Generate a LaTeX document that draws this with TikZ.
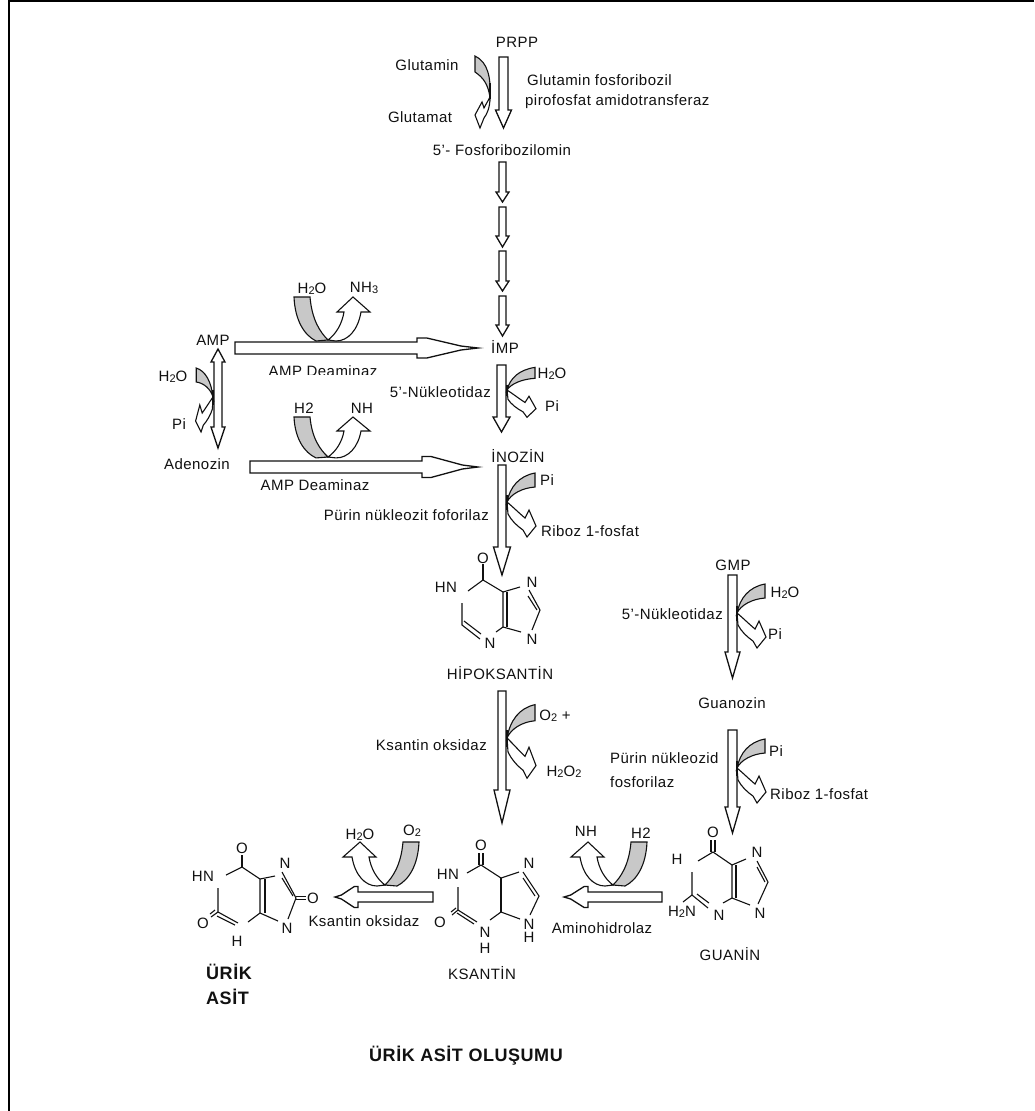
\documentclass[tikz,border=0pt]{standalone}
\usepackage{fontspec}
\setmainfont{Liberation Sans}[LetterSpace=3]
\usetikzlibrary{calc}
\definecolor{ink}{HTML}{111111}
\definecolor{bandgrey}{HTML}{C8C8C8}
\tikzset{
  lab/.style={font=\fontsize{15}{17}\selectfont,text=ink,inner sep=0pt},
  labw/.style={lab,anchor=west},
  labe/.style={lab,anchor=east},
  blab/.style={font=\bfseries\fontsize{18}{20}\selectfont,text=ink,inner sep=0pt},
  atom/.style={lab},
  blockarrow/.style={draw=ink,fill=white,line width=1.3pt,line join=miter},
  band/.style={draw=ink,fill=bandgrey,line width=1.1pt},
  curvearrow/.style={draw=ink,fill=white,line width=1.1pt},
  bond/.style={draw=ink,line width=1.1pt},
  wedge/.style={draw=ink,line width=2.2pt},
}
\newcommand{\low}[1]{\raisebox{-1.5pt}{\fontsize{11}{11}\selectfont #1}}
% vertical block arrow: name, x, ytop, yneck, ytip, shaft half width, head half width
\newcommand{\varr}[7]{%
  \coordinate (#1s) at (#2,#3); \coordinate (#1n) at (#2,#4); \coordinate (#1e) at (#2,#5);
  \draw[blockarrow] ($(#1s)+(-#6,0)$) -- ($(#1s)+(#6,0)$) -- ($(#1n)+(#6,0)$) -- ($(#1n)+(#7,0)$)
    -- (#1e) -- ($(#1n)+(-#7,0)$) -- ($(#1n)+(-#6,0)$) -- cycle;}
% horizontal block arrow with a needle tip: name, y, xstart, xneck, xtip, shaft half, head half
\newcommand{\harr}[7]{%
  \coordinate (#1s) at (#3,#2); \coordinate (#1n) at (#4,#2); \coordinate (#1e) at (#5,#2);
  \draw[blockarrow] ($(#1s)+(0,-#6)$) -- ($(#1n)+(0,-#6)$) -- ($(#1n)+(0,-#7)$)
    -- ($($(#1n)!.16!(#1e)$)+(0,-#7)$) -- ($($(#1n)!.72!(#1e)$)+(0,-2)$) -- (#1e)
    -- ($($(#1n)!.72!(#1e)$)+(0,2)$) -- ($($(#1n)!.16!(#1e)$)+(0,#7)$)
    -- ($(#1n)+(0,#7)$) -- ($(#1n)+(0,#6)$) -- ($(#1s)+(0,#6)$) -- cycle;}
% U shaped cofactor pair; apex at the arrow
\newcommand{\ubend}[3]{%
  \coordinate (#1) at (#2);
  \begin{scope}[shift={(#1)},#3]
    \draw[band] (-34,-43) -- (-18,-43) .. controls (-16,-20) and (-8,-8) .. (0,0)
      -- (-12,1) .. controls (-24,-5) and (-33,-20) .. (-34,-43) -- cycle;
    \draw[curvearrow] (0,0) .. controls (8,-6) and (14,-16) .. (16,-28) -- (9,-28) -- (25,-43)
      -- (42,-28) -- (33,-28) .. controls (30,-10) and (20,1) .. (8,1) -- cycle;
  \end{scope}}
% side cofactor pair
\newcommand{\sbend}[3]{%
  \coordinate (#1) at (#2);
  \begin{scope}[shift={(#1)},#3]
    \draw[band] (28,-29) .. controls (12,-26) and (3,-15) .. (0,0)
      .. controls (4,-8) and (15,-14) .. (28,-15) -- cycle;
    \draw[curvearrow] (0,0) .. controls (6,5) and (12,11) .. (18,16) -- (22,8) -- (29,24)
      -- (20,35) -- (16,28) .. controls (10,24) and (4,18) .. (1,12) -- cycle;
    \draw[ink,line width=1.6pt] (0,-7) -- (0,8);
  \end{scope}}
\begin{document}
\begin{tikzpicture}[x=1pt,y=-1pt]
\useasboundingbox (0,0) rectangle (1034,1111);
\fill[white] (0,0) rectangle (1034,1111);
% frame
\coordinate (frameTR) at (1034,1);
\coordinate (frameTL) at (9,1);
\coordinate (frameBL) at (9,1111);
\draw[black,line width=2.4pt] (frameTR) -- (frameTL) -- (frameBL);

% main vertical path
\varr{a1}{503.5}{57}{110}{128}{4.5}{8}
\varr{a2}{502.5}{162}{192}{202}{3.5}{6.5}
\varr{a3}{502.5}{207}{236}{247}{3.5}{6.5}
\varr{a4}{502.5}{251}{281}{291}{3.5}{6.5}
\varr{a5}{502.5}{296}{325}{336}{3.5}{6.5}
\varr{a6}{501.5}{365}{417}{432}{4.5}{8.5}
\varr{a7}{502}{465}{547}{575}{4}{8.5}
\varr{a8}{502}{691}{790}{823}{4}{8}
\varr{a9}{732.5}{575}{652}{678}{4.5}{7.5}
\varr{a10}{732.5}{730}{807}{833}{4.5}{7.5}
% horizontal block arrows
\harr{h1}{348}{235}{417}{478}{6}{10}
\harr{h2}{467}{250}{422}{478}{6}{10.5}
\harr{h3}{897}{433}{358}{335}{5}{10.5}
\harr{h4}{897}{662}{588}{564}{5}{10.5}
% double headed AMP / Adenozin arrow
\coordinate (ampTip) at (218,349);
\coordinate (adeTip) at (218,448);
\draw[blockarrow] (ampTip) -- (225,362) -- (222,362) -- (222,427) -- (225,427) -- (adeTip)
  -- (211,427) -- (214,427) -- (214,362) -- (211,362) -- cycle;

% cofactor pairs
\ubend{u1}{328,340}{}
\ubend{u2}{328,457}{yscale=.93}
\ubend{u3}{385,885}{xscale=-1}
\ubend{u4}{613,885}{xscale=-1}
\sbend{s1}{507,390}{yscale=.78}
\sbend{s2}{507,502}{}
\sbend{s3}{507,738}{yscale=1.15}
\sbend{s4}{737,613}{}
\sbend{s5}{737,768}{}
\sbend{s6}{213,397}{xscale=-.6}
% Glutamin / Glutamat pair
\coordinate (gluApex) at (490,97);
\draw[band] (475,56) .. controls (488,62) and (491,78) .. (gluApex)
  .. controls (488,85) and (484,78) .. (475,72) -- cycle;
\draw[curvearrow] (gluApex) .. controls (488,101) and (486,104) .. (484,108) -- (482,102) -- (475,115)
  -- (480,128) -- (484,118) .. controls (487,114) and (490,108) .. (gluApex) -- cycle;
\draw[ink,line width=1.5pt] (490,83) -- (490,99);

% labels
\node[lab] (prpp) at (517,42) {PRPP};
\node[lab] (glnA) at (427,65) {Glutamin};
\node[lab] (gluA) at (420,117) {Glutamat};
\node[labw] (enz1a) at (527,80) {Glutamin fosforibozil};
\node[labw] (enz1b) at (525,102) {pirofosfat amidotransferaz};
\node[lab] (fra) at (502,150) {5'- Fosforibozilomin};
\node[lab] (imp) at (505,347) {İMP};
\node[lab] (h2oU) at (312,289) {H\low{2}O};
\node[lab] (nh3U) at (364,288) {NH\low{3}};
\node[lab] (amp) at (213,340) {AMP};
\begin{scope}
  \clip (200,355) rectangle (450,374);
  \node[lab] (deam1) at (323,371) {AMP Deaminaz};
\end{scope}
\node[lab] (h2oAmp) at (173,377) {H\low{2}O};
\node[lab] (piAmp) at (179,424) {Pi};
\node[lab] (ade) at (197,464) {Adenozin};
\node[lab] (h2b) at (304,408) {H2};
\node[lab] (nhb) at (362,408) {NH};
\node[lab] (deam2) at (315,485) {AMP Deaminaz};
\node[labe] (nuk1) at (491,392) {5'-Nükleotidaz};
\node[lab] (h2oImp) at (552,374) {H\low{2}O};
\node[lab] (piImp) at (552,406) {Pi};
\node[lab] (ino) at (518,456) {İNOZİN};
\node[lab] (piIno) at (547,480) {Pi};
\node[lab] (rib1) at (590,531) {Riboz 1-fosfat};
\node[labe] (pnf) at (489,515) {Pürin nükleozit foforilaz};
\node[lab] (hipo) at (500,673) {HİPOKSANTİN};
\node[lab] (o2a) at (555,716) {O\low{2} +};
\node[lab] (h2o2) at (564,772) {H\low{2}O\low{2}};
\node[labe] (kso1) at (487,745) {Ksantin oksidaz};
\node[lab] (gmp) at (733,565) {GMP};
\node[lab] (h2oG) at (785,593) {H\low{2}O};
\node[labe] (nuk2) at (723,614) {5'-Nükleotidaz};
\node[lab] (piG) at (775,634) {Pi};
\node[lab] (gzn) at (732,703) {Guanozin};
\node[lab] (piGz) at (776,751) {Pi};
\node[labw] (pnd1) at (610,758) {Pürin nükleozid};
\node[labw] (pnd2) at (610,782) {fosforilaz};
\node[labw] (rib2) at (770,794) {Riboz 1-fosfat};
\node[lab] (amh) at (602,928) {Aminohidrolaz};
\node[lab] (nhc) at (586,831) {NH};
\node[lab] (h2c) at (641,833) {H2};
\node[lab] (h2oC) at (360,835) {H\low{2}O};
\node[lab] (o2c) at (412,831) {O\low{2}};
\node[lab] (kso2) at (364,921) {Ksantin oksidaz};
\node[lab] (ksn) at (482,973) {KSANTİN};
\node[lab] (gua) at (730,954) {GUANİN};
\node[blab,anchor=west] (urk1) at (206,972) {ÜRİK};
\node[blab,anchor=west] (urk2) at (206,997) {ASİT};
\node[blab] (title) at (466,1056) {ÜRİK ASİT OLUŞUMU};

% hipoksantin
\node[atom] (hO) at (483,558) {O};
\node[atom] (hHN) at (446,587) {HN};
\node[atom] (hN3) at (490,643) {N};
\node[atom] (hN7) at (532,582) {N};
\node[atom] (hN9) at (532,639) {N};
\coordinate (hC6) at (483,580); \coordinate (hC5) at (503,592); \coordinate (hC4) at (503,627);
\coordinate (hC8) at (540,610); \coordinate (hC2) at (462,625); \coordinate (hA) at (462,603);
\coordinate (hB) at (468,591); \coordinate (hW) at (483,564); \coordinate (hD) at (480,639);
\coordinate (hE) at (496,632); \coordinate (hF) at (520,587); \coordinate (hG) at (521,632);
\draw[wedge] (hW) -- (hC6);
\draw[bond] (hB) -- (hC6) -- (hC5) -- (hC4) -- (hE);
\draw[bond] ($(hC5)+(4,0)$) -- ($(hC4)+(4,0)$);
\draw[bond] (hA) -- (hC2) -- (hD);
\draw[bond] ($(hC2)+(2,-4)$) -- ($(hD)+(1,-5)$);
\draw[bond] (hC5) -- (hF);
\draw[bond] (hC4) -- (hG);
\draw[bond] ($(hN7)+(-3,8)$) -- (hC8) -- ($(hN9)+(0,-9)$);
\draw[bond] ($(hN7)+(-4,14)$) -- ($(hC8)+(-3,0)$);

% ksantin
\node[atom] (kO) at (481,845) {O};
\node[atom] (kHN) at (448,874) {HN};
\node[atom] (kO2) at (440,922) {O};
\node[atom] (kN3) at (485,932) {N};
\node[atom] (kH3) at (485,948) {H};
\node[atom] (kN7) at (529,863) {N};
\node[atom] (kN9) at (529,924) {N};
\node[atom] (kH9) at (529,937) {H};
\coordinate (kC6) at (481,865); \coordinate (kC5) at (501,878); \coordinate (kC4) at (501,912);
\coordinate (kC2) at (458,910); \coordinate (kC8) at (539,896); \coordinate (kA) at (458,887);
\coordinate (kB) at (467,873); \coordinate (kD) at (477,922); \coordinate (kE) at (490,920);
\coordinate (kF) at (519,872); \coordinate (kG) at (520,919);
\draw[bond] ($(kO)+(-2,8)$) -- ($(kC6)+(-2,0)$);
\draw[bond] ($(kO)+(2,8)$) -- ($(kC6)+(2,0)$);
\draw[bond] (kB) -- (kC6) -- (kC5);
\draw[wedge] (kC5) -- (kC4);
\draw[bond] (kC4) -- (kE);
\draw[bond] (kA) -- (kC2) -- (kD);
\draw[bond] ($(kC2)+(-1,3)$) -- ($(kD)+(-3,2)$);
\draw[bond] ($(kC2)+(-6,5)$) -- (kC2);
\draw[bond] ($(kC2)+(-7,2)$) -- ($(kC2)+(-2,-2)$);
\draw[bond] (kC5) -- (kF);
\draw[bond] (kC4) -- (kG);
\draw[bond] ($(kN7)+(-6,9)$) -- (kC8) -- ($(kN9)+(1,-9)$);
\draw[bond] ($(kN7)+(-6,15)$) -- ($(kC8)+(-4,0)$);

% guanin
\node[atom] (gO) at (713,832) {O};
\node[atom] (gH) at (677,859) {H};
\node[atom] (gH2N) at (682,912) {H\low{2}N};
\node[atom] (gN3) at (719,915) {N};
\node[atom] (gN7) at (757,852) {N};
\node[atom] (gN9) at (760,913) {N};
\coordinate (gC6) at (713,852); \coordinate (gC5) at (732,865); \coordinate (gC4) at (732,898);
\coordinate (gC2) at (692,895); \coordinate (gC8) at (768,882); \coordinate (gA) at (692,872);
\coordinate (gB) at (698,861); \coordinate (gD) at (708,908); \coordinate (gE) at (723,903);
\coordinate (gF) at (746,859); \coordinate (gG) at (750,905); \coordinate (gJ) at (683,902);
\draw[bond] ($(gO)+(-2,8)$) -- ($(gC6)+(-2,0)$);
\draw[bond] ($(gO)+(2,8)$) -- ($(gC6)+(2,0)$);
\draw[bond] (gB) -- (gC6) -- (gC5) -- (gC4) -- (gE);
\draw[bond] ($(gC5)+(4,0)$) -- ($(gC4)+(4,0)$);
\draw[bond] (gA) -- (gC2) -- (gD);
\draw[bond] ($(gC2)+(5,-1)$) -- ($(gD)+(1,-5)$);
\draw[bond] (gJ) -- (gC2);
\draw[bond] (gC5) -- (gF);
\draw[bond] (gC4) -- (gG);
\draw[bond] ($(gN7)+(0,9)$) -- (gC8) -- ($(gN9)+(-2,-9)$);
\draw[bond] ($(gN7)+(0,15)$) -- ($(gC8)+(-3,0)$);

% urik asit
\node[atom] (uO) at (242,848) {O};
\node[atom] (uHN) at (203,876) {HN};
\node[atom] (uO2) at (203,923) {O};
\node[atom] (uH) at (237,941) {H};
\node[atom] (uN7) at (285,863) {N};
\node[atom] (uN9) at (287,928) {N};
\node[atom] (uO8) at (313,898) {O};
\coordinate (uC6) at (242,867); \coordinate (uC5) at (260,879); \coordinate (uC4) at (260,913);
\coordinate (uC2) at (218,912); \coordinate (uC8) at (296,898); \coordinate (uA) at (218,888);
\coordinate (uB) at (226,875); \coordinate (uD) at (238,923); \coordinate (uE) at (248,922);
\coordinate (uF) at (275,876); \coordinate (uG) at (278,921); \coordinate (uW) at (242,855);
\draw[wedge] (uW) -- (uC6);
\draw[bond] (uB) -- (uC6) -- (uC5) -- (uC4) -- (uE);
\draw[bond] ($(uC5)+(5,0)$) -- ($(uC4)+(5,0)$);
\draw[bond] (uA) -- (uC2) -- (uD);
\draw[bond] ($(uC2)+(-1,4)$) -- ($(uD)+(-3,2)$);
\draw[bond] ($(uC2)+(-7,5)$) -- (uC2);
\draw[bond] ($(uC2)+(-8,2)$) -- ($(uC2)+(-3,-2)$);
\draw[bond] (uC5) -- (uF);
\draw[bond] (uC4) -- (uG);
\draw[bond] ($(uN7)+(-3,9)$) -- (uC8) -- ($(uN9)+(1,-9)$);
\draw[bond] ($(uN7)+(-3,15)$) -- ($(uC8)+(-3,-2)$);
\draw[bond] ($(uC8)+(0,-1.5)$) -- ($(uO8)+(-7,-1.5)$);
\draw[bond] ($(uC8)+(0,1.5)$) -- ($(uO8)+(-7,1.5)$);
\end{tikzpicture}
\end{document}
